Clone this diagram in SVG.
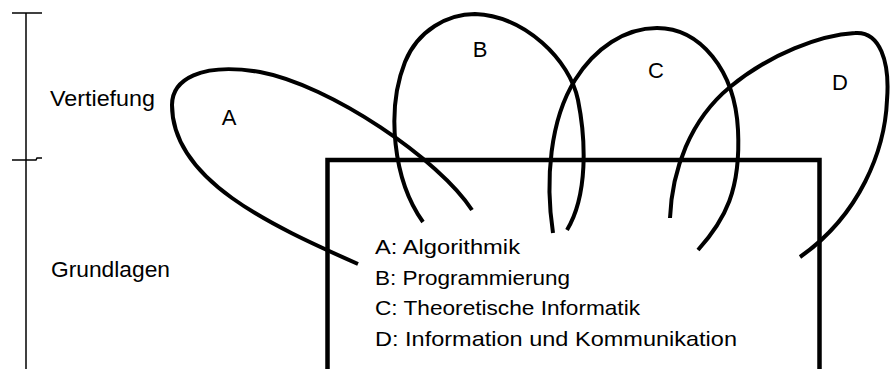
<svg xmlns="http://www.w3.org/2000/svg" width="890" height="369" viewBox="0 0 890 369">
<style>
.bg{fill:#ffffff}
.axis{stroke:#000;stroke-width:1.5;fill:none}
.box{stroke:#000;stroke-width:4.5;fill:none}
.loop{stroke:#000;stroke-width:4;fill:none;stroke-linecap:butt}
.t{font-family:"Liberation Sans",Arial,sans-serif;fill:#000}
.lbl{font-size:22px}
.leg{font-size:21px}
</style>
<rect class="bg" x="0" y="0" width="890" height="369"/>
<g id="axis">
<line class="axis" x1="26" y1="13" x2="26" y2="369"/>
<line class="axis" x1="12" y1="13" x2="42" y2="13"/>
<path class="axis" d="M12,160 L36,160 L37,158 L42,158"/>
<text class="t lbl" x="50" y="106" textLength="105" lengthAdjust="spacingAndGlyphs">Vertiefung</text>
<text class="t lbl" x="51" y="277" textLength="119" lengthAdjust="spacingAndGlyphs">Grundlagen</text>
</g>
<g id="grundlagen-box">
<path class="box" d="M327.5,369 L327.5,160 L819.5,160 L819.5,369"/>
</g>
<g id="legend">
<text class="t leg" x="375" y="254" textLength="145" lengthAdjust="spacingAndGlyphs">A: Algorithmik</text>
<text class="t leg" x="375" y="285" textLength="195" lengthAdjust="spacingAndGlyphs">B: Programmierung</text>
<text class="t leg" x="375" y="315" textLength="265" lengthAdjust="spacingAndGlyphs">C: Theoretische Informatik</text>
<text class="t leg" x="375" y="346" textLength="362" lengthAdjust="spacingAndGlyphs">D: Information und Kommunikation</text>
</g>
<g id="loops">
<g id="A">
<path class="loop" d="M472,210 C440,160 330,85 260,72 C200,62 172,80 172,105 C172,180 270,225 358,264"/>
<text class="t lbl" x="229" y="125" text-anchor="middle">A</text>
</g>
<g id="B">
<path class="loop" d="M423,222 C393,180 386,110 405,62 C418,30 448,14 475,14 C525,16 570,60 578,100 C586,140 588,195 567,230"/>
<text class="t lbl" x="480" y="57" text-anchor="middle">B</text>
</g>
<g id="C">
<path class="loop" d="M553,233 C545,180 550,120 575,80 C595,48 625,28 657,28 C700,28 735,70 738,130 C741,190 725,220 698,250"/>
<text class="t lbl" x="656" y="78" text-anchor="middle">C</text>
</g>
<g id="D">
<path class="loop" d="M670,218 C672,170 690,120 730,87 C770,54 820,35 855,33 C880,31 890,62 887,100 C885,150 860,215 800,257"/>
<text class="t lbl" x="840" y="90" text-anchor="middle">D</text>
</g>
</g>
</svg>
